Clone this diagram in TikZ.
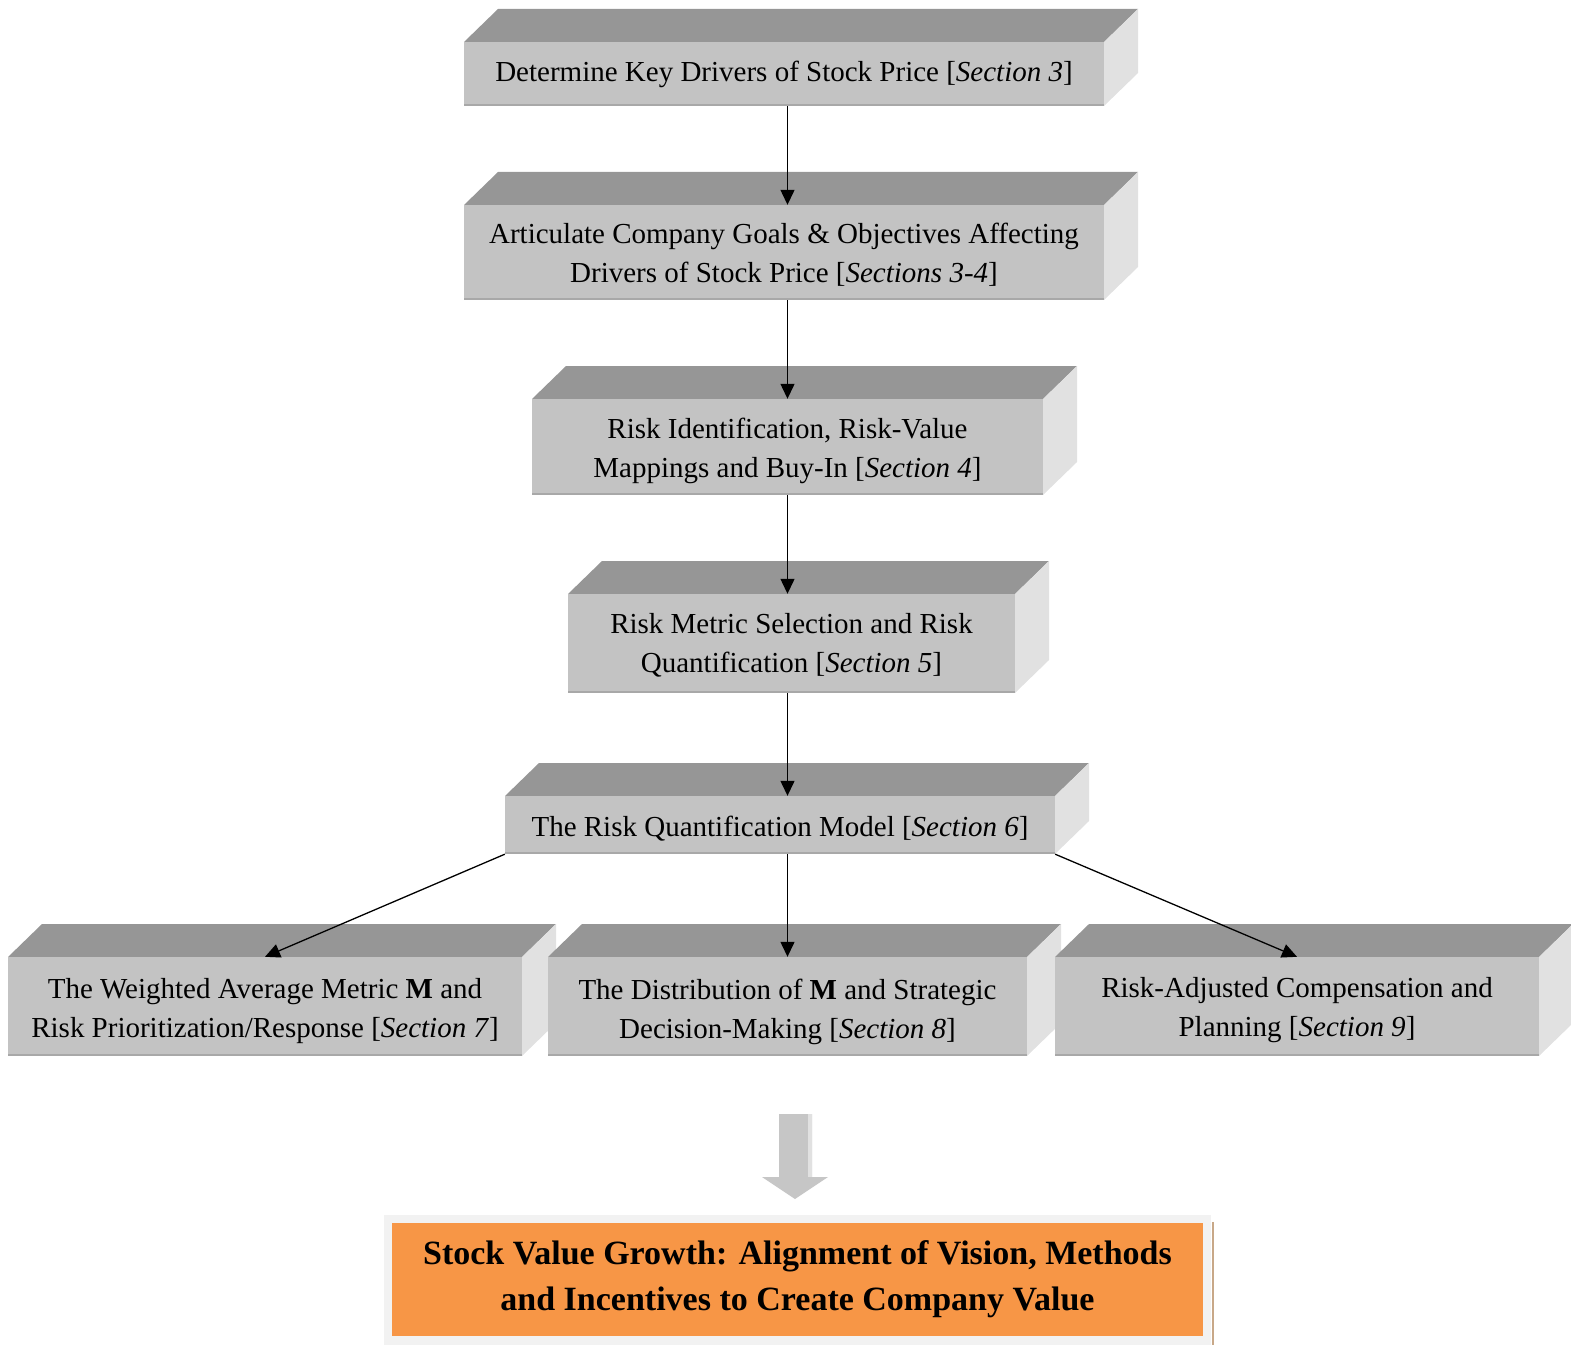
\documentclass[tikz,border=0pt]{standalone}
\usepackage{fontspec}
\setmainfont{Liberation Serif}
\usetikzlibrary{arrows.meta}
\definecolor{frontc}{HTML}{C3C3C3}
\definecolor{topc}{HTML}{969696}
\definecolor{sidec}{HTML}{E1E1E1}
\definecolor{edgec}{HTML}{A8A8A8}
\definecolor{orangec}{HTML}{F79646}
\definecolor{frameg}{HTML}{F2F2F2}
\definecolor{blockg}{HTML}{C6C6C6}
\definecolor{brownc}{HTML}{C8A888}
\tikzset{
  frontbox/.style={fill=frontc, inner sep=0pt},
  boxtext/.style={inner sep=0pt, align=center, font=\fontsize{29}{39}\selectfont},
  arr/.style={line width=1.3pt, -{Triangle[length=15pt,width=14pt]}},
}
\newcommand\threedbox[7]{%
  \fill[topc] (#2,#3) -- (#2+34,#3-33) -- (#4+34,#3-33) -- (#4,#3) -- cycle;
  \fill[sidec] (#4,#3) -- (#4+34,#3-33) -- (#4+34,#5-33) -- (#4,#5) -- cycle;
  \node[frontbox, minimum width={(#4-#2)*1pt}, minimum height={(#5-#3)*1pt}] (#1) at ({(#2+#4)/2},{(#3+#5)/2}) {};
  \draw[edgec, line width=2pt] (#2,#5-1) -- (#4,#5-1);
  \node[boxtext] (#1t) at ({(#2+#4)/2},{(#3+#5)/2+#7}) {#6};
}
\begin{document}
\begin{tikzpicture}[x=1pt,y=-1pt]
\useasboundingbox (0,0) rectangle (1571,1348);
\threedbox{b1}{464}{42}{1104}{106}{Determine Key Drivers of Stock Price [\textit{Section 3}]}{0}
\threedbox{b2}{464}{205}{1104}{300}{Articulate Company Goals \& Objectives Affecting\\Drivers of Stock Price [\textit{Sections 3-4}]}{2}
\threedbox{b3}{532}{399}{1043}{495}{Risk Identification, Risk-Value\\Mappings and Buy-In [\textit{Section 4}]}{4}
\threedbox{b4}{568}{594}{1015}{693}{Risk Metric Selection and Risk\\Quantification [\textit{Section 5}]}{2}
\threedbox{b5}{505}{796}{1055}{854}{The Risk Quantification Model [\textit{Section 6}]}{4}
\threedbox{b6}{8}{957}{522}{1056}{The Weighted Average Metric \textbf{M} and\\Risk Prioritization/Response [\textit{Section 7}]}{5}
\threedbox{b7}{548}{957}{1027}{1056}{The Distribution of \textbf{M} and Strategic\\Decision-Making [\textit{Section 8}]}{5}
\threedbox{b8}{1055}{957}{1539}{1056}{Risk-Adjusted Compensation and\\Planning [\textit{Section 9}]}{4}

\draw[arr] (b1.south -| b3.south) -- (b3.south |- b2.north);
\draw[arr] (b2.south -| b3.south) -- (b3.south |- b3.north);
\draw[arr] (b3.south) -- (b3.south |- b4.north);
\draw[arr] (b4.south -| b3.south) -- (b3.south |- b5.north);
\draw[arr] (b5.south west) -- (b6.north);
\draw[arr] (b5.south -| b7.north) -- (b7.north);
\draw[arr] (b5.south east) -- (b8.north);

% block arrow
\fill[blockg] (779,1114) -- (812,1114) -- (812,1177) -- (828,1177) -- (795,1199) -- (762,1177) -- (779,1177) -- cycle;
\fill[sidec] (808,1114) -- (812,1114) -- (812,1177) -- (808,1177) -- cycle;

% result box
\node[fill=frameg, minimum width=827pt, minimum height=130pt, inner sep=0pt] (frame) at (797.5,1280) {};
\node[fill=orangec, minimum width=811pt, minimum height=113pt, inner sep=0pt, align=center,
      font=\fontsize{34}{46}\selectfont\bfseries] (res) at (797.5,1279.5)
  {Stock Value Growth: Alignment of Vision, Methods\\and Incentives to Create Company Value};
\draw[brownc, line width=1.5pt] (frame.north east) ++(2,7) coordinate (bt) -- (bt |- frame.south);
\end{tikzpicture}
\end{document}
